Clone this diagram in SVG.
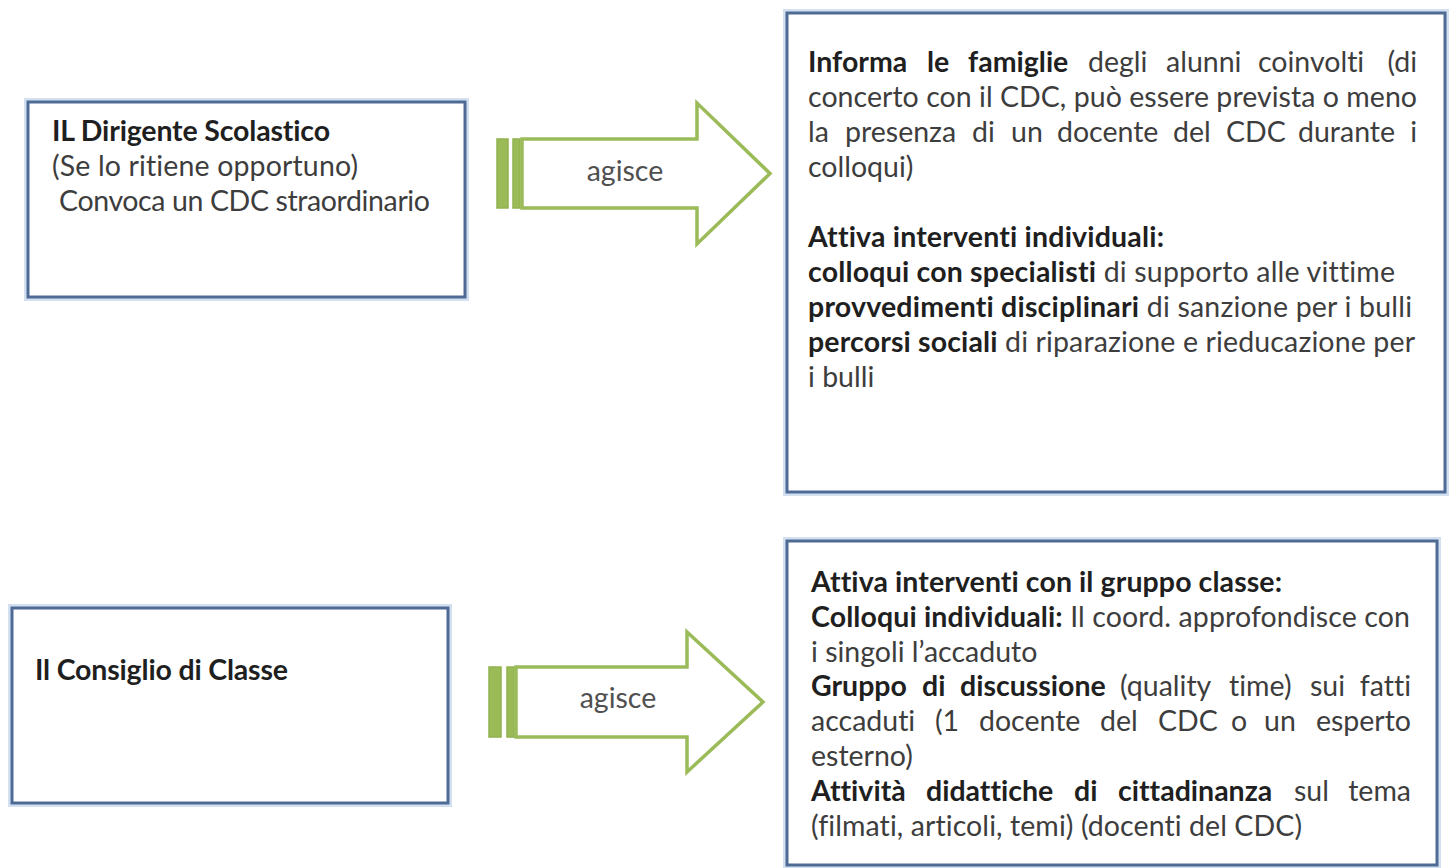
<svg xmlns="http://www.w3.org/2000/svg" width="1452" height="868" viewBox="0 0 1452 868">
  <style>
    .box { fill: #ffffff; stroke: #4e6b95; stroke-width: 3; }
    .halo { fill: none; stroke: #d3e0f0; stroke-width: 8; }
    .t { font-family: Lato, "Open Sans", "Liberation Sans", sans-serif; font-size: 28.5px; fill: #3d3d3d; font-variant-ligatures: none; font-feature-settings: "liga" 0, "clig" 0; }
    .b { font-weight: bold; fill: #1f1f1f; }
    .end { text-anchor: end; }
    .arrow { fill: #ffffff; stroke: #9bbb59; stroke-width: 3.5; stroke-linejoin: miter; }
    .bar { fill: #9bbb59; stroke: #92b250; stroke-width: 1.5; }
    .lbl { font-family: Lato, "Open Sans", "Liberation Sans", sans-serif; font-size: 28.5px; fill: #505050; text-anchor: middle; }
  </style>
  <rect x="0" y="0" width="1452" height="868" fill="#ffffff"/>

  <g id="node-dirigente">
    <rect class="halo" x="28" y="102" width="437" height="195"/>
    <rect class="box" x="28" y="102" width="437" height="195"/>
    <text class="t b" x="52" y="141" textLength="278" lengthAdjust="spacing">IL Dirigente Scolastico</text>
    <text class="t" x="52" y="176" textLength="306" lengthAdjust="spacing">(Se lo ritiene opportuno)</text>
    <text class="t" x="59" y="211" textLength="371" lengthAdjust="spacing">Convoca un CDC straordinario</text>
  </g>

  <g id="node-consiglio">
    <rect class="halo" x="12" y="608" width="436" height="195"/>
    <rect class="box" x="12" y="608" width="436" height="195"/>
    <text class="t b" x="35" y="680" textLength="253" lengthAdjust="spacing">Il Consiglio di Classe</text>
  </g>

  <g id="node-informa">
    <rect class="halo" x="787" y="13" width="658" height="479"/>
    <rect class="box" x="787" y="13" width="658" height="479"/>
    <text class="t" y="72"><tspan class="b" x="808">Informa</tspan><tspan class="b" x="927">le</tspan><tspan class="b" x="968">famiglie</tspan><tspan x="1088">degli</tspan><tspan x="1166">alunni</tspan><tspan x="1258">coinvolti</tspan></text>
    <text class="t end" x="1417" y="72">(di</text>
    <text class="t" x="808" y="107" textLength="609" lengthAdjust="spacing">concerto con il CDC, può essere prevista o meno</text>
    <text class="t" y="142"><tspan x="808">la</tspan><tspan x="845">presenza</tspan><tspan x="972">di</tspan><tspan x="1011">un</tspan><tspan x="1057">docente</tspan><tspan x="1173">del</tspan><tspan x="1226">CDC</tspan><tspan x="1298">durante</tspan></text>
    <text class="t end" x="1417" y="142">i</text>
    <text class="t" x="808" y="177">colloqui)</text>
    <text class="t b" x="808" y="247" textLength="356" lengthAdjust="spacing">Attiva interventi individuali:</text>
    <text class="t" x="808" y="282" textLength="587" lengthAdjust="spacing"><tspan class="b">colloqui con specialisti</tspan> di supporto alle vittime</text>
    <text class="t" x="808" y="317" textLength="604" lengthAdjust="spacing"><tspan class="b">provvedimenti disciplinari</tspan> di sanzione per i bulli</text>
    <text class="t" x="808" y="352" textLength="607" lengthAdjust="spacing"><tspan class="b">percorsi sociali</tspan> di riparazione e rieducazione per</text>
    <text class="t" x="808" y="387">i bulli</text>
  </g>

  <g id="node-gruppo-classe">
    <rect class="halo" x="787" y="541" width="650" height="324"/>
    <rect class="box" x="787" y="541" width="650" height="324"/>
    <text class="t b" x="811" y="592" textLength="471" lengthAdjust="spacing">Attiva interventi con il gruppo classe:</text>
    <text class="t" x="811" y="627" textLength="599" lengthAdjust="spacing"><tspan class="b">Colloqui individuali:</tspan> Il coord. approfondisce con</text>
    <text class="t" x="811" y="662">i singoli l’accaduto</text>
    <text class="t" y="696"><tspan class="b" x="811">Gruppo</tspan><tspan class="b" x="922">di</tspan><tspan class="b" x="960">discussione</tspan><tspan x="1120">(quality</tspan><tspan x="1229">time)</tspan><tspan x="1310">sui</tspan></text>
    <text class="t end" x="1411" y="696">fatti</text>
    <text class="t" y="731"><tspan x="811">accaduti</tspan><tspan x="935">(1</tspan><tspan x="979">docente</tspan><tspan x="1100">del</tspan><tspan x="1158">CDC</tspan><tspan x="1231">o</tspan><tspan x="1264">un</tspan></text>
    <text class="t end" x="1411" y="731">esperto</text>
    <text class="t" x="811" y="766">esterno)</text>
    <text class="t" y="801"><tspan class="b" x="811">Attività</tspan><tspan class="b" x="926">didattiche</tspan><tspan class="b" x="1074">di</tspan><tspan class="b" x="1118">cittadinanza</tspan><tspan x="1294">sul</tspan></text>
    <text class="t end" x="1411" y="801">tema</text>
    <text class="t" x="811" y="836" textLength="491" lengthAdjust="spacing">(filmati, articoli, temi) (docenti del CDC)</text>
  </g>

  <g id="connectors">
    <g id="arrow-dirigente">
      <rect class="bar" x="497" y="139" width="11" height="69"/>
      <rect class="bar" x="513" y="139" width="7" height="69"/>
      <path class="arrow" d="M522,139 H697 V103 L770,173.5 L697,244 V208 H522 Z"/>
      <text class="lbl" x="625" y="181">agisce</text>
    </g>
    <g id="arrow-consiglio">
      <rect class="bar" x="489" y="667" width="12" height="70"/>
      <rect class="bar" x="507" y="667" width="7" height="70"/>
      <path class="arrow" d="M516,667 H687 V632 L763,702 L687,772 V737 H516 Z"/>
      <text class="lbl" x="618" y="708">agisce</text>
    </g>
  </g>
</svg>
